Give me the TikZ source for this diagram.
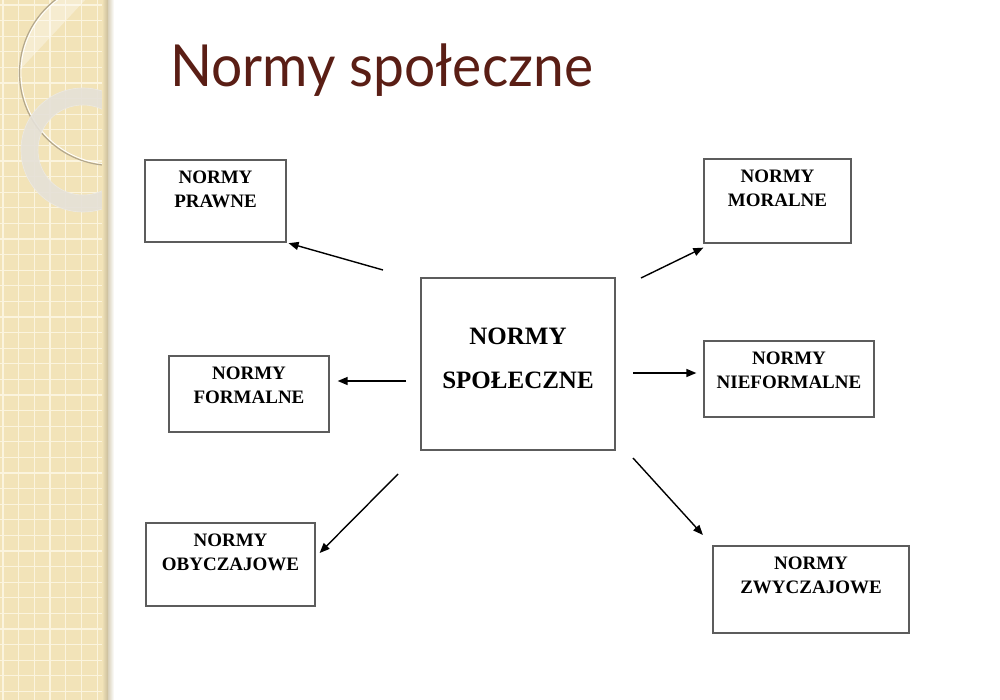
\documentclass[tikz,border=0pt]{standalone}
\usepackage{fontspec}
\setmainfont{Liberation Serif}
\newfontfamily\titlefont{Lato}
\usetikzlibrary{arrows.meta}
\definecolor{stripbg}{HTML}{F2E3B8}
\definecolor{gridln}{HTML}{FBF4DE}
\definecolor{titlec}{HTML}{5A1E15}
\definecolor{boxline}{HTML}{5C5C5C}
\definecolor{ringc}{HTML}{E5E1D8}
\definecolor{circc}{HTML}{B3A78C}
\definecolor{edgec}{HTML}{C9BD9C}
\begin{document}
\begin{tikzpicture}[x=1pt,y=-1pt,
  box/.style={draw=boxline, line width=1.3pt, inner sep=0pt},
  lbl/.style={align=center, font=\fontsize{19}{24}\selectfont\bfseries, anchor=north, inner sep=0pt, yshift=-11pt},
  biglbl/.style={align=center, font=\fontsize{25}{44}\selectfont\bfseries, anchor=north, inner sep=0pt, yshift=-50pt},
  arr/.style={-{Triangle[length=10pt,width=8pt]}, line width=1.4pt, black}]

\useasboundingbox (0,0) rectangle (1000,700);
\fill[white] (0,0) rectangle (1000,700);

% decorative strip
\begin{scope}
  \clip (0,0) rectangle (108,700);
  \fill[stripbg] (0,0) rectangle (108,700);
  \foreach \i in {0,...,7} {\draw[gridln, line width=1.3pt] (3+\i*15.7,0) -- (3+\i*15.7,700);}
  \foreach \j in {0,...,45} {\draw[gridln, line width=1.3pt] (0,5+\j*15.6) -- (108,5+\j*15.6);}
  \begin{scope}
    \clip (112,73) circle [radius=92.5pt];
    \fill[white, opacity=0.35] (0,0) -- (85,0) -- (15,75) -- cycle;
  \end{scope}
  \draw[circc, line width=1.2pt] (112,73) circle [radius=92.5pt];
  \draw[white, line width=0.8pt] (112,73) circle [radius=91pt];
  \fill[ringc, opacity=0.9, even odd rule] (83,150) circle [radius=62pt] (83,150) circle [radius=45pt];
  \draw[white!75!circc, line width=0.6pt] (83,150) circle [radius=62pt];
  \draw[white!75!circc, line width=0.6pt] (83,150) circle [radius=45pt];
  \shade[left color=stripbg, right color=edgec] (102,0) rectangle (108,700);
\end{scope}
\shade[left color=edgec!70, right color=white] (108,0) rectangle (114,700);

% title
\node[anchor=base west, inner sep=0pt, text=titlec, xscale=0.95, font=\titlefont\fontsize{58}{60}\selectfont] (title) at (170,87) {Normy społeczne};

% boxes
\node[box, minimum width=194pt, minimum height=172pt, label={[biglbl]north:{NORMY\\SPOŁECZNE}}] (center) at (518,364) {};
\node[box, minimum width=141pt, minimum height=82pt, label={[lbl]north:{NORMY\\PRAWNE}}] (prawne) at (215.5,201) {};
\node[box, minimum width=147pt, minimum height=84pt, label={[lbl]north:{NORMY\\MORALNE}}] (moralne) at (777.5,201) {};
\node[box, minimum width=160pt, minimum height=76pt, label={[lbl]north:{NORMY\\FORMALNE}}] (formalne) at (249,394) {};
\node[box, minimum width=170pt, minimum height=76pt, label={[lbl]north:{NORMY\\NIEFORMALNE}}] (nieformalne) at (789,379) {};
\node[box, minimum width=169pt, minimum height=83pt, label={[lbl]north:{NORMY\\OBYCZAJOWE}}] (obyczajowe) at (230.5,564.5) {};
\node[box, minimum width=196pt, minimum height=87pt, label={[lbl]north:{NORMY\\ZWYCZAJOWE}}] (zwyczajowe) at (811,589.5) {};

% arrow tails
\coordinate (t1) at (383,270);
\coordinate (t2) at (641,278);
\coordinate (t3) at (633,373);
\coordinate (t4) at (406,381);
\coordinate (t5) at (398,474);
\coordinate (t6) at (633,458);

\draw[arr, shorten >=2pt] (t1) -- (prawne.south east);
\draw[arr] (t2) -- ([yshift=-4pt]moralne.south west);
\draw[arr, shorten >=7pt] (t3) -- (t3 -| nieformalne.west);
\draw[arr, shorten >=8pt] (t4) -- (t4 -| formalne.east);
\draw[arr] (t5) -- ([xshift=4pt,yshift=11.5pt]obyczajowe.east);
\draw[arr, shorten >=14pt] (t6) -- (zwyczajowe.north west);
\end{tikzpicture}
\end{document}
